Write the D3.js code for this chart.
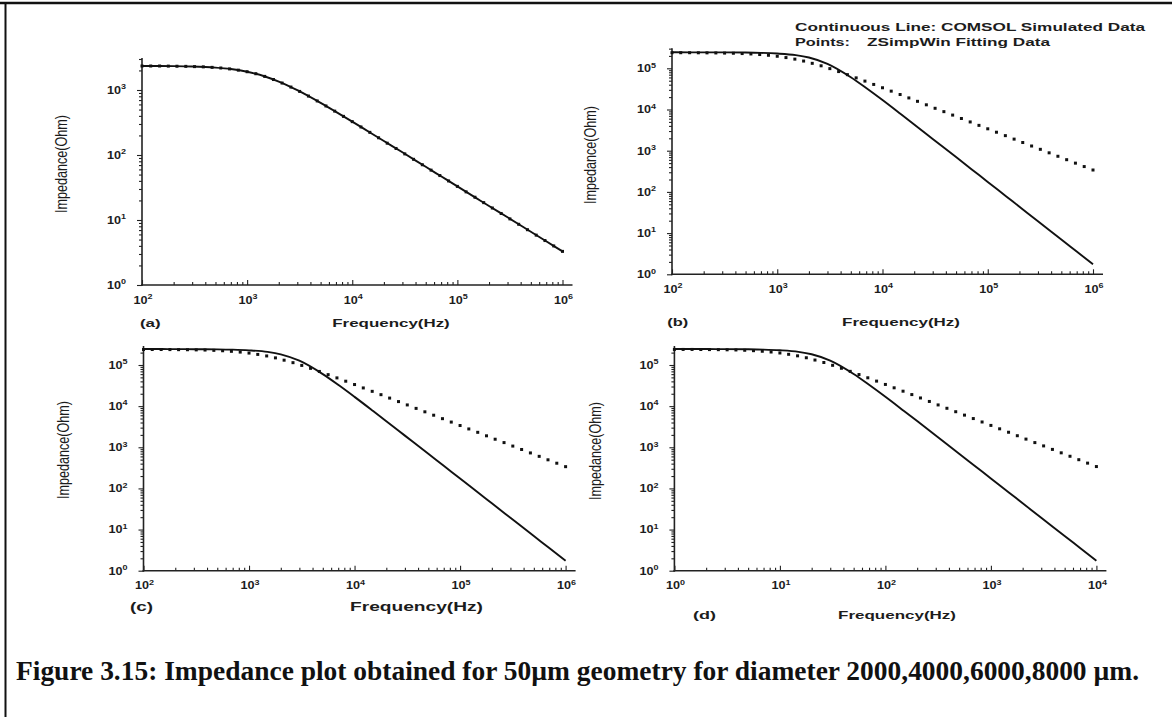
<!DOCTYPE html>
<html>
<head>
<meta charset="utf-8">
<script src="https://cdn.jsdelivr.net/npm/d3@7/dist/d3.min.js"></script>
<style>
  html, body { margin: 0; padding: 0; background: #fff; }
  svg { display: block; }
</style>
</head>
<body>
<svg id="fig" width="1172" height="717"></svg>
<script>
// Frequency sweeps (Hz): fitted points at 12 per decade, simulated curve samples
const fitFreqHigh = [100,121,147,178,215,261,316,383,464,562,681,825,
  1000,1210,1470,1780,2150,2610,3160,3830,4640,5620,6810,8250,
  10000,12100,14700,17800,21500,26100,31600,38300,46400,56200,68100,82500,
  100000,121000,147000,178000,215000,261000,316000,383000,464000,562000,681000,825000,
  1000000];
const fitFreqLow = [1,1.21,1.47,1.78,2.15,2.61,3.16,3.83,4.64,5.62,6.81,8.25,
  10,12.1,14.7,17.8,21.5,26.1,31.6,38.3,46.4,56.2,68.1,82.5,
  100,121,147,178,215,261,316,383,464,562,681,825,
  1000,1210,1470,1780,2150,2610,3160,3830,4640,5620,6810,8250,
  10000];
const simFreqHigh = [100,150,200,300,500,700,1000,1500,2000,3000,5000,7000,
  10000,15000,20000,30000,50000,70000,100000,150000,200000,300000,500000,700000,1000000];
const simFreqLow = [1,1.5,2,3,5,7,10,15,20,30,50,70,
  100,150,200,300,500,700,1000,1500,2000,3000,5000,7000,10000];

// (a) impedance magnitude (Ohm)
const simA = [2340,2340,2330,2300,2210,2100,1910,1600,1350,994,634,461,
  326,218,164,110,65.8,47.0,32.9,21.9,16.4,11.0,6.58,4.70,3.29];
const fitA = [2340,2340,2340,2330,2320,2310,2290,2270,2230,2180,2110,2020,
  1910,1780,1620,1450,1280,1110,951,807,679,568,473,393,
  326,270,223,184,152,126,104,85.8,70.8,58.5,48.3,39.9,
  32.9,27.1,22.4,18.5,15.3,12.6,10.4,8.59,7.09,5.85,4.83,3.99,
  3.29];

// (b)
const simB = [245000,244000,244000,243000,241000,237000,228000,209000,183000,128000,60500,33100,
  16900,7640,4330,1930,700,357,175,77.7,43.7,19.4,7.00,3.57,1.75];
const fitB = [239000,239000,239000,238000,237000,236000,234000,232000,228000,223000,216000,207000,
  196000,182000,167000,150000,132000,115000,98200,83300,70100,58600,48900,40600,
  33700,27900,23100,19100,15800,13000,10700,8870,7320,6050,4990,4120,
  3400,2810,2320,1910,1580,1300,1080,888,733,605,499,412,
  340];

// (c)
const simC = [244000,244000,243000,242000,240000,236000,227000,208000,182000,127000,60000,33000,
  16800,7600,4300,1920,695,354,174,77.0,43.4,19.3,6.95,3.55,1.74];
const fitC = [238000,238000,238000,237000,236000,235000,233000,231000,227000,222000,215000,206000,
  195000,181000,166000,149000,131000,114000,97700,82900,69700,58300,48600,40400,
  33500,27700,22900,19000,15700,12900,10700,8820,7280,6020,4960,4100,
  3380,2790,2310,1900,1570,1300,1070,884,729,602,496,410,
  338];

// (d)
const simD = [245000,244000,244000,243000,241000,237000,228000,209000,183000,128000,60500,33100,
  16900,7640,4330,1930,700,357,175,77.7,43.7,19.4,7.00,3.57,1.75];
const fitD = [239000,239000,239000,238000,237000,236000,234000,232000,228000,223000,216000,207000,
  196000,182000,167000,150000,132000,115000,98200,83300,70100,58600,48900,40600,
  33700,27900,23100,19100,15800,13000,10700,8870,7320,6050,4990,4120,
  3400,2810,2320,1910,1580,1300,1080,888,733,605,499,412,
  340];

// Tick values (decade exponents)
const yExpA = [0,1,2,3];
const yExpBCD = [0,1,2,3,4,5];
const xExpHigh = [2,3,4,5,6];
const xExpLow = [0,1,2,3,4];

const panelTags = ["(a)", "(b)", "(c)", "(d)"];
const xTitle = "Frequency(Hz)";
const yTitle = "Impedance(Ohm)";
const legendLine1 = "Continuous Line: COMSOL Simulated Data";
const legendLine2a = "Points:";
const legendLine2b = "ZSimpWin Fitting Data";
const caption = "Figure 3.15:  Impedance plot obtained for 50\u00b5m geometry for diameter 2000,4000,6000,8000 \u00b5m.";

// Panel geometry (pixel frame of each log-log plot) and title placement
const panels = [
  { tag: panelTags[0], simF: simFreqHigh, sim: simA, fitF: fitFreqHigh, fit: fitA, xExp: xExpHigh, yExp: yExpA,
    x0: 142, x1: 562.5, yBase: 285, dec: 65, yTop: 58,
    yl: [62, 164], xl: [391, 327, 117.5], tg: [150.3, 327, 20.7], fs: 11 },
  { tag: panelTags[1], simF: simFreqHigh, sim: simB, fitF: fitFreqHigh, fit: fitB, xExp: xExpHigh, yExp: yExpBCD,
    x0: 672, x1: 1093, yBase: 274.3, dec: 41.2, yTop: 48.3,
    yl: [591, 155], xl: [901, 325.5, 118], tg: [677.8, 325.5, 21], fs: 11 },
  { tag: panelTags[2], simF: simFreqHigh, sim: simC, fitF: fitFreqHigh, fit: fitC, xExp: xExpHigh, yExp: yExpBCD,
    x0: 143.5, x1: 565.6, yBase: 570.7, dec: 41.14, yTop: 346,
    yl: [64, 450], xl: [416.5, 610.5, 133], tg: [141.5, 610.5, 23], fs: 12 },
  { tag: panelTags[3], simF: simFreqLow, sim: simD, fitF: fitFreqLow, fit: fitD, xExp: xExpLow, yExp: yExpBCD,
    x0: 674.4, x1: 1096.4, yBase: 570.7, dec: 41.14, yTop: 346,
    yl: [596, 451], xl: [897, 618.5, 118], tg: [704.6, 618.5, 23], fs: 11 }
];

const svg = d3.select("#fig");
const SANS = "'Liberation Sans', Arial, Helvetica, sans-serif";
const SERIF = "'Liberation Serif', 'Times New Roman', serif";
const INK = "#1c1c1c";

// outer frame (top and left rules)
svg.append("line").attr("x1", 0).attr("x2", 1172).attr("y1", 3).attr("y2", 3)
  .attr("stroke", "#111").attr("stroke-width", 2.4);
svg.append("line").attr("x1", 5.5).attr("x2", 5.5).attr("y1", 2).attr("y2", 717)
  .attr("stroke", "#111").attr("stroke-width", 2);

function minorValues(exps) {
  const out = [];
  for (let e = exps[0]; e < exps[exps.length - 1]; e++) {
    for (let m = 2; m <= 9; m++) out.push(m * Math.pow(10, e));
  }
  return out;
}

// "10" with a superscript exponent, slightly widened
function powLabel(parent, cx, cy, exp, anchor) {
  const t = parent.append("text")
    .attr("transform", `translate(${cx},${cy}) scale(1.2,1)`)
    .attr("text-anchor", anchor).attr("font-family", SANS).attr("font-weight", "bold")
    .attr("font-size", 10.5).attr("fill", INK);
  t.append("tspan").text("10");
  t.append("tspan").attr("dy", -4.5).attr("font-size", 7.5).text(exp);
  return t;
}

panels.forEach(p => {
  const g = svg.append("g");
  const xMin = Math.pow(10, p.xExp[0]);
  const xMax = Math.pow(10, p.xExp[p.xExp.length - 1]);
  const x = d3.scaleLog().domain([xMin, xMax]).range([p.x0, p.x1]);
  const yMaxVal = Math.pow(10, (p.yBase - p.yTop) / p.dec);
  const y = d3.scaleLog().domain([1, yMaxVal]).range([p.yBase, p.yTop]);

  const yMajor = p.yExp.map(e => Math.pow(10, e));
  const topExp = p.yExp[p.yExp.length - 1];
  const yMinor = minorValues(p.yExp)
    .concat([2, 3, 4, 5, 6, 7, 8, 9].map(m => m * Math.pow(10, topExp)))
    .filter(v => v <= yMaxVal);
  const xMajor = p.xExp.map(e => Math.pow(10, e));
  const xMinor = minorValues(p.xExp);

  // y axis: outward ticks
  const gy1 = g.append("g").attr("transform", `translate(${p.x0},0)`)
    .call(d3.axisLeft(y).tickValues(yMajor).tickSize(5).tickFormat(() => ""));
  const gy2 = g.append("g").attr("transform", `translate(${p.x0},0)`)
    .call(d3.axisLeft(y).tickValues(yMinor).tickSize(3).tickFormat(() => ""));
  // x axis: inward ticks
  const gx1 = g.append("g").attr("transform", `translate(0,${p.yBase})`)
    .call(d3.axisBottom(x).tickValues(xMajor).tickSize(-5).tickFormat(() => ""));
  const gx2 = g.append("g").attr("transform", `translate(0,${p.yBase})`)
    .call(d3.axisBottom(x).tickValues(xMinor).tickSize(-3).tickFormat(() => ""));
  [gy1, gy2, gx1, gx2].forEach(a => {
    a.select(".domain").remove();
    a.selectAll(".tick line").attr("stroke", "#222").attr("stroke-width", 1.1);
  });

  // axis rules
  g.append("line").attr("x1", p.x0).attr("x2", p.x0).attr("y1", p.yBase + 1).attr("y2", p.yTop)
    .attr("stroke", "#222").attr("stroke-width", 1.6);
  g.append("line").attr("x1", p.x0 - 1).attr("x2", p.x1 + 10).attr("y1", p.yBase).attr("y2", p.yBase)
    .attr("stroke", "#222").attr("stroke-width", 1.6);

  // tick labels
  p.yExp.forEach(e => powLabel(g, p.x0 - 16, y(Math.pow(10, e)) + 3.8, e, "end"));
  p.xExp.forEach(e => powLabel(g, x(Math.pow(10, e)) + 1, p.yBase + 18.5, e, "middle"));

  // axis titles and panel tag (the lettering is drawn wide)
  g.append("text")
    .attr("transform", `translate(${p.yl[0] + 5},${p.yl[1]}) rotate(-90) scale(1,1.45)`)
    .attr("text-anchor", "middle").attr("font-family", SANS).attr("font-size", 11.5)
    .attr("textLength", 98).attr("lengthAdjust", "spacingAndGlyphs")
    .attr("fill", INK).text(yTitle);
  g.append("text")
    .attr("x", p.xl[0] - p.xl[2] / 2).attr("y", p.xl[1])
    .attr("font-family", SANS).attr("font-weight", "bold").attr("font-size", p.fs)
    .attr("textLength", p.xl[2]).attr("lengthAdjust", "spacingAndGlyphs")
    .attr("fill", INK).text(xTitle);
  g.append("text")
    .attr("x", p.tg[0] - p.tg[2] / 2).attr("y", p.tg[1])
    .attr("font-family", SANS).attr("font-weight", "bold").attr("font-size", p.fs)
    .attr("textLength", p.tg[2]).attr("lengthAdjust", "spacingAndGlyphs")
    .attr("fill", INK).text(p.tag);

  // simulated curve
  const line = d3.line()
    .x((d, i) => x(p.simF[i]))
    .y(d => y(d))
    .curve(d3.curveMonotoneX);
  g.append("path").datum(p.sim).attr("d", line)
    .attr("fill", "none").attr("stroke", "#111").attr("stroke-width", 1.9)
    .attr("stroke-linejoin", "round");

  // fitted points
  g.append("g").selectAll("rect").data(p.fit).join("rect")
    .attr("x", (d, i) => x(p.fitF[i]) - 1.5)
    .attr("y", d => y(d) - 1.5)
    .attr("width", 3).attr("height", 3)
    .attr("fill", "#111");
});

// legend
function legendText(x, y, len, str) {
  svg.append("text").attr("x", x).attr("y", y)
    .attr("font-family", SANS).attr("font-weight", "bold").attr("font-size", 11)
    .attr("textLength", len).attr("lengthAdjust", "spacingAndGlyphs")
    .attr("fill", INK).text(str);
}
legendText(795, 30.5, 350, legendLine1);
legendText(795, 46, 55, legendLine2a);
legendText(867, 46, 183, legendLine2b);

// caption
svg.append("text").attr("x", 16).attr("y", 680)
  .attr("font-family", SERIF).attr("font-weight", "bold").attr("font-size", 26.5)
  .attr("textLength", 1123).attr("lengthAdjust", "spacingAndGlyphs")
  .attr("fill", "#111").text(caption);
</script>
</body>
</html>
